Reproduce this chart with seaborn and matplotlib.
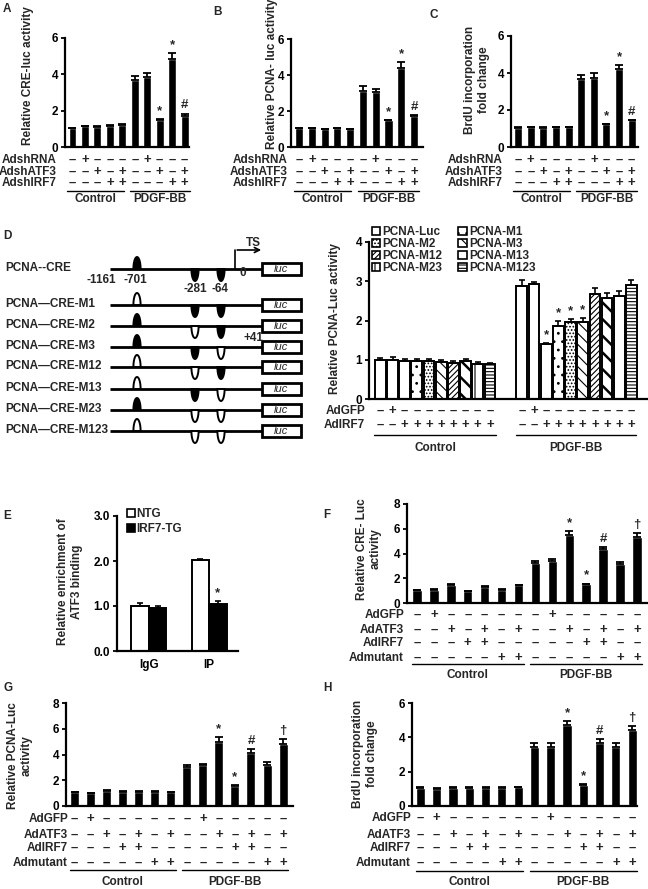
import numpy as np
import pandas as pd
import matplotlib
matplotlib.use("Agg")
import matplotlib.pyplot as plt
import matplotlib.transforms as mtransforms
from matplotlib.patches import Patch, Polygon, Rectangle
import seaborn as sns

# ---------------- data ----------------
# A-C: 5 control + 5 PDGF-BB bars
abc_rows = ["AdshRNA", "AdshATF3", "AdshIRF7"]
abc_shrna = ["-", "+", "-", "-", "-", "-", "+", "-", "-", "-"]
abc_shatf3 = ["-", "-", "+", "-", "+", "-", "-", "+", "-", "+"]
abc_shirf7 = ["-", "-", "-", "+", "+", "-", "-", "-", "+", "+"]
a_vals = [1.05, 1.15, 1.12, 1.17, 1.22, 3.68, 3.83, 1.5, 4.85, 1.72]
a_errs = [0.02, 0.03, 0.02, 0.03, 0.03, 0.23, 0.26, 0.03, 0.3, 0.12]
b_vals = [1.06, 1.03, 1.0, 1.03, 1.0, 3.13, 3.07, 1.49, 4.38, 1.75]
b_errs = [0.02, 0.02, 0.02, 0.02, 0.02, 0.26, 0.18, 0.02, 0.35, 0.05]
c_vals = [1.05, 1.08, 1.05, 1.08, 1.07, 3.65, 3.72, 1.23, 4.22, 1.45]
c_errs = [0.02, 0.02, 0.02, 0.02, 0.02, 0.24, 0.26, 0.02, 0.2, 0.03]
abc_marks = {7: "*", 8: "*", 9: "#"}

# D: luciferase constructs
d_constructs = ["PCNA-Luc", "PCNA-Luc", "PCNA-Luc", "PCNA-M1", "PCNA-M2",
                "PCNA-M3", "PCNA-M12", "PCNA-M13", "PCNA-M23", "PCNA-M123"]
d_gfp = ["-", "+", "-", "-", "-", "-", "-", "-", "-", "-"]
d_irf7 = ["-", "-", "+", "+", "+", "+", "+", "+", "+", "+"]
d_ctrl = [1.0, 1.0, 0.97, 0.98, 0.97, 0.95, 0.92, 0.96, 0.9, 0.88]
d_ctrl_err = [0.04, 0.07, 0.06, 0.03, 0.06, 0.05, 0.04, 0.05, 0.04, 0.04]
d_pdgf = [2.88, 2.92, 1.4, 1.87, 1.95, 1.95, 2.67, 2.58, 2.63, 2.9]
d_pdgf_err = [0.15, 0.05, 0.03, 0.13, 0.1, 0.12, 0.15, 0.12, 0.12, 0.12]
d_pdgf_marks = {2: "*", 3: "*", 4: "*", 5: "*"}

# D schematic: sites -701, -281, -64 (1 = intact, 0 = mutated)
diag_names = ["PCNA--CRE", "PCNA\u2014CRE-M1", "PCNA\u2014CRE-M2", "PCNA\u2014CRE-M3",
              "PCNA\u2014CRE-M12", "PCNA\u2014CRE-M13", "PCNA\u2014CRE-M23", "PCNA\u2014CRE-M123"]
diag_sites = [[1, 1, 1], [0, 1, 1], [1, 0, 1], [1, 1, 0],
              [0, 0, 1], [0, 1, 0], [1, 0, 0], [0, 0, 0]]

# E: ChIP
e_groups = ["IgG", "IgG", "IP", "IP"]
e_geno = ["NTG", "IRF7-TG", "NTG", "IRF7-TG"]
e_vals = [1.0, 0.96, 2.03, 1.05]
e_errs = [0.07, 0.05, 0.02, 0.06]

# F-H: 7 control + 7 PDGF-BB bars
fgh_rows = ["AdGFP", "AdATF3", "AdIRF7", "Admutant"]
fgh_gfp = ["-", "+", "-", "-", "-", "-", "-", "-", "+", "-", "-", "-", "-", "-"]
fgh_atf3 = ["-", "-", "+", "-", "+", "-", "+", "-", "-", "+", "-", "+", "-", "+"]
fgh_irf7 = ["-", "-", "-", "+", "+", "-", "-", "-", "-", "-", "+", "+", "-", "-"]
fgh_mut = ["-", "-", "-", "-", "-", "+", "+", "-", "-", "-", "-", "-", "+", "+"]
f_vals = [1.05, 1.08, 1.48, 0.95, 1.32, 1.07, 1.42, 3.25, 3.42, 5.5, 1.5, 4.38, 3.15, 5.35]
f_errs = [0.04, 0.04, 0.05, 0.03, 0.04, 0.04, 0.04, 0.15, 0.1, 0.3, 0.06, 0.15, 0.18, 0.28]
g_vals = [1.05, 1.0, 1.2, 1.12, 1.12, 1.12, 1.05, 3.0, 3.15, 5.0, 1.55, 4.1, 3.15, 4.85]
g_errs = [0.05, 0.04, 0.05, 0.05, 0.05, 0.05, 0.05, 0.2, 0.1, 0.35, 0.05, 0.35, 0.3, 0.35]
h_vals = [1.05, 1.0, 1.05, 1.05, 1.07, 1.05, 1.08, 3.45, 3.45, 4.72, 1.22, 3.68, 3.45, 4.45]
h_errs = [0.03, 0.03, 0.03, 0.03, 0.03, 0.03, 0.03, 0.22, 0.2, 0.22, 0.04, 0.2, 0.2, 0.22]
fgh_marks = {9: "*", 10: "*", 11: "#", 13: "\u2020"}

group_names = ["Control", "PDGF-BB"]

# ---------------- style ----------------
sns.set_theme(style="ticks")
plt.rcParams["font.family"] = ["Liberation Sans", "DejaVu Sans"]
plt.rcParams["font.weight"] = "bold"
plt.rcParams["font.size"] = 8
plt.rcParams["hatch.color"] = "black"
plt.rcParams["hatch.linewidth"] = 0.8

W, H = 648, 889
fig = plt.figure(figsize=(W / 100, H / 100), dpi=100)

# full-figure axes in pixel coordinates for labels and the schematic
base = fig.add_axes([0, 0, 1, 1])
base.set_xlim(0, W)
base.set_ylim(H, 0)
base.axis("off")
base.set_facecolor("none")


def rect(x0, y0, x1, y1):
    return [x0 / W, 1 - y1 / H, (x1 - x0) / W, (y1 - y0) / H]


def style(ax, xlim, ylim, yticks, fmt="{:.0f}"):
    ax.set_xlim(*xlim)
    ax.set_ylim(*ylim)
    ax.set_yticks(yticks)
    ax.set_yticklabels([fmt.format(t) for t in yticks], fontweight="bold")
    ax.set_xlabel("")
    ax.set_ylabel("")
    sns.despine(ax=ax)
    for s in ["left", "bottom"]:
        ax.spines[s].set_linewidth(1.6)
        ax.spines[s].set_color("black")
    ax.tick_params(axis="y", length=3, width=1.3, pad=2, labelsize=8.5, colors="black")
    ax.tick_params(axis="x", length=0)
    ax.set_facecolor("none")
    ax.set_autoscale_on(False)


def black_bars(ax, vals, errs, width, marks):
    df = pd.DataFrame({"pos": np.arange(len(vals)), "val": vals})
    sns.barplot(data=df, x="pos", y="val", color="black", saturation=1,
                width=width, errorbar=None, ax=ax)
    ax.errorbar(df["pos"], df["val"], yerr=[np.zeros(len(vals)), errs], fmt="none",
                ecolor="black", elinewidth=1.3, capsize=2.6, capthick=1.3)
    ax.set_xticks([])
    for i, m in marks.items():
        ax.annotate(m, (i, vals[i] + errs[i]), xytext=(0, 1.5), textcoords="offset points",
                    ha="center", va="bottom", fontsize=9.5)


def sign_rows(ax, xs, names, rows, ys, label_right):
    tr = mtransforms.blended_transform_factory(ax.transData, base.transData)
    for name, row, y in zip(names, rows, ys):
        base.text(label_right, y, name, ha="right", va="center", fontsize=8.5)
        for x, s in zip(xs, row):
            ax.text(x, y, "\u2013" if s == "-" else "+", transform=tr, fontsize=9.5,
                    ha="center", va="center", clip_on=False)


def group_lines(ax, spans, line_y, text_y):
    tr = mtransforms.blended_transform_factory(ax.transData, base.transData)
    for (x0, x1), nm in zip(spans, group_names):
        ax.plot([x0, x1], [line_y, line_y], transform=tr, color="black", lw=1, clip_on=False)
        ax.text((x0 + x1) / 2, text_y, nm, transform=tr, ha="center", va="center", fontsize=8.5)


# ---------------- A, B, C ----------------
abc_panels = [
    (a_vals, a_errs, (65, 38, 189, 147), (-0.6, 9.35), 57, "Relative CRE-luc activity", (28, 76)),
    (b_vals, b_errs, (291, 39, 423, 147), (-0.63, 9.7), 288, "Relative PCNA- luc activity", (272, 74)),
    (c_vals, c_errs, (511, 36, 638, 147), (-0.57, 9.5), 503, "BrdU incorporation\nfold change", (477, 80)),
]
for vals, errs, box, xlim, lab_r, ylab, ylab_xy in abc_panels:
    ax = fig.add_axes(rect(*box))
    black_bars(ax, vals, errs, 0.63, abc_marks)
    style(ax, xlim, (0, 6), [0, 2, 4, 6])
    sign_rows(ax, range(10), abc_rows, [abc_shrna, abc_shatf3, abc_shirf7], [160, 172, 183], lab_r)
    group_lines(ax, [(-0.4, 4.1), (4.6, 9.4)], 191, 199)
    base.text(*ylab_xy, ylab, rotation=90, ha="center", va="center", ma="center", fontsize=8.5)

for letter, xy in zip("ABC", [(3, 9), (213, 12), (430, 15)]):
    base.text(*xy, letter, ha="left", va="center", fontsize=8.5)

# ---------------- D schematic ----------------
site_x = [137, 195, 221]
site_up = [True, False, False]
row_y = [269, 305, 326, 347, 367, 389, 410, 431]


def site(x, y, up, filled):
    t = np.linspace(0, np.pi, 30)
    a, b = 3.6, 12
    ys = y - b * np.sin(t) if up else y + b * np.sin(t)
    pts = np.column_stack([x + a * np.cos(t), ys])
    base.add_patch(Polygon(pts, closed=True, facecolor="black" if filled else "white",
                           edgecolor="black", lw=1.4, zorder=3))


for name, sites, y in zip(diag_names, diag_sites, row_y):
    base.text(5, y - 1, name, ha="left", va="center", fontsize=8.5)
    base.plot([110, 262], [y, y], color="black", lw=2, solid_capstyle="butt")
    base.add_patch(Rectangle((262, y - 6), 39, 12, facecolor="white", edgecolor="black", lw=2))
    base.text(281.5, y, "luc", ha="center", va="center", style="italic", fontweight="normal")
    for x, up, s in zip(site_x, site_up, sites):
        site(x, y, up, s == 1)

base.text(101, 280, "-1161", ha="center", va="center", fontsize=8.5)
base.text(135, 280, "-701", ha="center", va="center", fontsize=8.5)
base.text(195, 289, "-281", ha="center", va="center", fontsize=8.5)
base.text(220, 289, "-64", ha="center", va="center", fontsize=8.5)
base.text(243, 273, "0", ha="center", va="center", fontsize=8.5)
base.text(254, 338, "+41", ha="center", va="center", fontsize=8.5)
base.text(253, 243, "TS", ha="center", va="center", fontsize=8.5)
base.plot([235, 235], [269, 250], color="black", lw=1.2)
base.annotate("", xy=(264, 250), xytext=(234.4, 250),
              arrowprops=dict(arrowstyle="->", lw=1.2, color="black", mutation_scale=9))
base.text(3, 236, "D", ha="left", va="center", fontsize=8.5)

# ---------------- D chart ----------------
d_pos = np.concatenate([np.arange(10), np.arange(10) + 11.62])
d_vals = d_ctrl + d_pdgf
d_errs = d_ctrl_err + d_pdgf_err
d_hatch = {"PCNA-Luc": "", "PCNA-M1": "..", "PCNA-M2": ".....", "PCNA-M3": "\\\\\\",
           "PCNA-M12": "//////", "PCNA-M13": "\\\\", "PCNA-M23": "|", "PCNA-M123": "-----"}

axd = fig.add_axes(rect(369, 242, 647, 399))
dfd = pd.DataFrame({"pos": d_pos, "val": d_vals, "construct": d_constructs * 2})
sns.barplot(data=dfd, x="pos", y="val", native_scale=True, color="white", saturation=1,
            width=0.88, edgecolor="black", linewidth=1.4, errorbar=None, ax=axd)
bars = sorted(axd.patches, key=lambda p: p.get_x())
for p, c in zip(bars, dfd["construct"]):
    p.set_hatch(d_hatch[c])
    if c == "PCNA-M13" and hasattr(p, "set_hatch_linewidth"):
        p.set_hatch_linewidth(1.8)
axd.errorbar(d_pos, d_vals, yerr=[np.zeros(20), d_errs], fmt="none", ecolor="black",
             elinewidth=1.2, capsize=2.5, capthick=1.2, zorder=1)
for i, m in d_pdgf_marks.items():
    axd.annotate(m, (d_pos[10 + i], d_pdgf[i] + d_pdgf_err[i]), xytext=(0, 1),
                 textcoords="offset points", ha="center", va="bottom", fontsize=9.5)
axd.set_xticks([])
style(axd, (-0.93, 21.9), (0, 4), [0, 1, 2, 3, 4])

leg_order = ["PCNA-Luc", "PCNA-M2", "PCNA-M12", "PCNA-M23",
             "PCNA-M1", "PCNA-M3", "PCNA-M13", "PCNA-M123"]
handles = [Patch(facecolor="white", edgecolor="black", lw=1.2, hatch=d_hatch[k], label=k)
           for k in leg_order]
axd.legend(handles=handles, ncol=2, loc="upper left", bbox_to_anchor=(0.01, 1.1),
           frameon=False, handlelength=0.7, handleheight=0.7, handletextpad=0.2,
           labelspacing=0.0, columnspacing=1.35, borderpad=0, borderaxespad=0,
           prop={"weight": "bold", "size": 8.5})
sign_rows(axd, d_pos, ["AdGFP", "AdIRF7"], [d_gfp * 2, d_irf7 * 2], [411, 425], 365)
group_lines(axd, [(-0.5, 9.5), (11.12, 21.0)], 435, 448)
base.text(335, 319, "Relative PCNA-Luc activity", rotation=90, ha="center", va="center",
          fontsize=8.5)

# ---------------- E ----------------
axe = fig.add_axes(rect(117, 516, 238, 651))
dfe = pd.DataFrame({"group": e_groups, "geno": e_geno, "val": e_vals})
sns.barplot(data=dfe, x="group", y="val", hue="geno", palette={"NTG": "white", "IRF7-TG": "black"},
            saturation=1, width=0.58, gap=0, edgecolor="black", linewidth=1.4,
            errorbar=None, legend=False, ax=axe)
ebars = sorted(axe.patches, key=lambda p: p.get_x())
ex = [p.get_x() + p.get_width() / 2 for p in ebars]
axe.errorbar(ex, e_vals, yerr=[np.zeros(4), e_errs], fmt="none", ecolor="black",
             elinewidth=1.2, capsize=2.5, capthick=1.2)
axe.annotate("*", (ex[3], e_vals[3] + e_errs[3]), xytext=(0, 1.5), textcoords="offset points",
             ha="center", va="bottom", fontsize=9.5)
style(axe, (-0.53, 1.48), (0, 3), [0, 1, 2, 3], "{:.1f}")
axe.set_xticks([0, 1])
axe.set_xticklabels(["IgG", "IP"], fontweight="bold")
axe.tick_params(axis="x", pad=6, labelsize=8.5, colors="black")
axe.legend(handles=[Patch(facecolor="white", edgecolor="black", lw=1.2, label="NTG"),
                    Patch(facecolor="black", edgecolor="black", lw=1.2, label="IRF7-TG")],
           loc="upper left", bbox_to_anchor=(0.08, 1.06), frameon=False, handlelength=0.7,
           handleheight=0.7, handletextpad=0.15, labelspacing=0.3, borderpad=0,
           borderaxespad=0, prop={"weight": "bold", "size": 8.5})
base.text(70, 582, "Relative enrichment of\nATF3 binding", rotation=90, ha="center", va="center",
          ma="center", fontsize=8.5)
base.text(3, 516, "E", ha="left", va="center", fontsize=8.5)

# ---------------- F, G, H ----------------
fgh_panels = [
    (f_vals, f_errs, (407, 504, 648, 603), (-0.59, 13.65), (0, 8), [0, 2, 4, 6, 8],
     [615, 630, 643, 658], 664, 675, 404, "Relative CRE- Luc\nactivity", (369, 549), "F", (323, 515)),
    (g_vals, g_errs, (66, 703, 293, 806), (-0.53, 13.62), (0, 8), [0, 2, 4, 6, 8],
     [819, 835, 848, 863], 870, 882, 68, "Relative PCNA-Luc\nactivity", (20, 756), "G", (3, 688)),
    (h_vals, h_errs, (412, 703, 637, 806), (-0.52, 13.3), (0, 6), [0, 2, 4, 6],
     [818, 835, 848, 863], 871, 882, 411, "BrdU incorporation\nfold change", (365, 754), "H", (323, 688)),
]
for (vals, errs, box, xlim, ylim, yt, rys, ly, ty, lab_r, ylab, ylab_xy,
     letter, letter_xy) in fgh_panels:
    ax = fig.add_axes(rect(*box))
    black_bars(ax, vals, errs, 0.56, fgh_marks)
    style(ax, xlim, ylim, yt)
    sign_rows(ax, range(14), fgh_rows, [fgh_gfp, fgh_atf3, fgh_irf7, fgh_mut], rys, lab_r)
    group_lines(ax, [(-0.3, 6.3), (6.7, 13.3)], ly, ty)
    base.text(*ylab_xy, ylab, rotation=90, ha="center", va="center", ma="center", fontsize=8.5)
    base.text(*letter_xy, letter, ha="left", va="center", fontsize=8.5)

fig.savefig("out.png", dpi=100)
